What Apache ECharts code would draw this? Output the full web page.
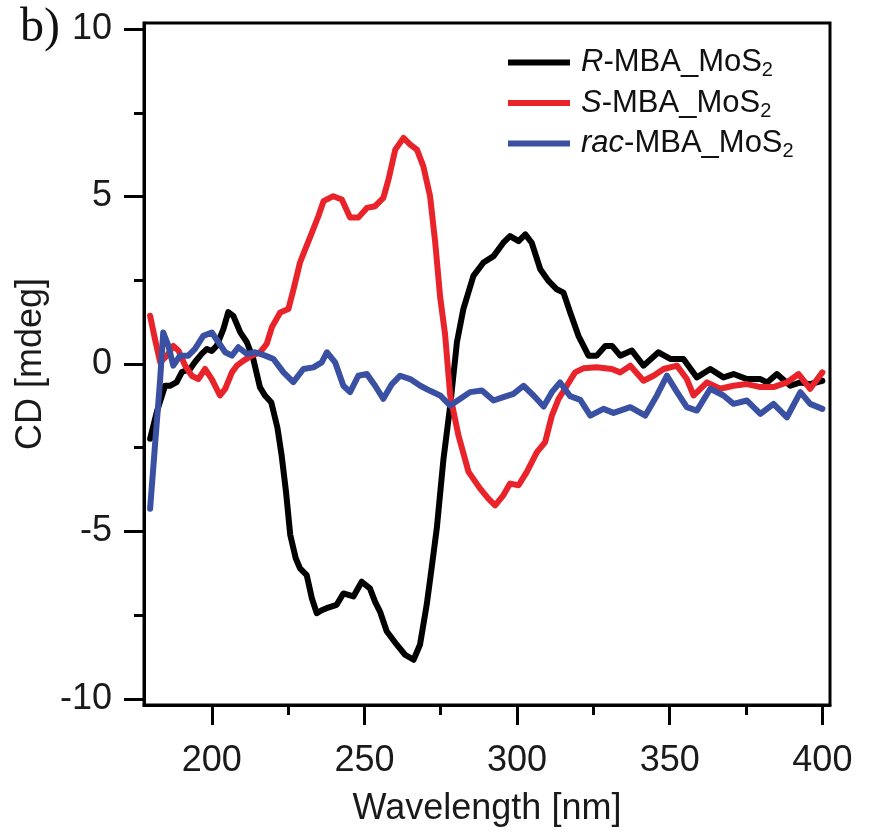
<!DOCTYPE html>
<html>
<head>
<meta charset="utf-8">
<script src="https://cdn.jsdelivr.net/npm/echarts@6/dist/echarts.min.js"></script>
<style>
html,body{margin:0;padding:0;background:#fff;}
#chart{width:871px;height:832px;}
</style>
</head>
<body>
<div id="chart"></div>
<script>
// ---- Data ----
const seriesNames = ['R-MBA_MoS2', 'S-MBA_MoS2', 'rac-MBA_MoS2'];

const rWavelength = [179.8,182.0,184.7,186.3,188.5,190.2,192.9,194.5,196.7,198.4,200.0,201.6,203.8,205.4,207.1,209.3,211.5,213.6,215.8,217.5,219.5,221.5,222.9,224.3,225.7,227.5,228.9,231.1,232.8,234.4,236.0,237.6,240.9,243.1,246.4,249.1,251.8,253.5,255.1,257.3,260.6,263.3,266.1,268.2,270.4,272.0,273.7,275.9,278.1,280.3,282.4,285.7,289.0,292.3,295.5,297.7,300.5,302.7,304.8,307.6,310.3,313.0,315.2,317.4,320.1,323.4,326.1,328.9,331.1,333.8,337.6,341.4,346.3,350.2,354.5,358.9,363.3,367.6,370.9,375.3,379.7,381.9,385.1,389.5,392.8,396.0,400.0];
const rCD = [-2.23,-1.43,-0.65,-0.65,-0.54,-0.24,-0.15,0.06,0.30,0.45,0.39,0.54,1.04,1.55,1.43,0.95,0.65,0.15,-0.70,-0.95,-1.15,-1.90,-2.74,-3.80,-5.10,-5.80,-6.10,-6.30,-7.00,-7.44,-7.35,-7.29,-7.19,-6.85,-6.94,-6.50,-6.70,-7.10,-7.39,-7.98,-8.38,-8.68,-8.83,-8.38,-7.19,-6.10,-4.91,-2.83,-1.24,0.65,1.64,2.63,3.03,3.22,3.62,3.82,3.67,3.87,3.62,2.83,2.48,2.23,2.13,1.54,0.84,0.25,0.25,0.54,0.54,0.25,0.40,-0.05,0.35,0.15,0.15,-0.40,-0.15,-0.40,-0.30,-0.45,-0.45,-0.55,-0.30,-0.65,-0.55,-0.60,-0.50];

const sWavelength = [179.8,181.4,183.1,185.3,187.4,189.1,191.3,193.4,195.6,197.8,200.0,202.7,204.4,206.6,208.2,210.4,213.1,215.8,218.0,219.7,222.4,225.1,226.7,228.9,230.6,232.8,234.9,236.6,239.8,242.6,245.3,248.0,250.8,253.5,256.2,257.9,260.1,262.8,265.0,267.2,269.3,271.5,273.2,274.8,276.4,278.1,280.8,284.1,287.9,290.6,292.8,295.5,297.7,300.5,303.2,306.5,309.2,311.4,313.6,316.3,319.0,321.7,326.1,331.0,333.8,337.1,341.4,344.7,348.0,352.4,355.6,357.8,362.2,366.5,370.9,375.3,379.7,384.0,388.4,392.2,396.0,400.0];
const sCD = [1.44,0.74,0.05,0.25,0.54,0.40,-0.05,-0.35,-0.45,-0.15,-0.45,-0.94,-0.74,-0.25,-0.05,0.10,0.25,0.35,0.60,1.10,1.54,1.64,2.20,3.03,3.42,3.92,4.41,4.86,5.01,4.91,4.37,4.37,4.66,4.71,4.96,5.51,6.40,6.75,6.55,6.40,5.90,5.01,3.62,2.00,0.90,-0.94,-2.13,-3.22,-3.72,-4.02,-4.22,-3.92,-3.57,-3.62,-3.22,-2.63,-2.33,-1.54,-1.04,-0.65,-0.25,-0.13,-0.10,-0.15,-0.25,-0.05,-0.50,-0.35,-0.15,-0.05,-0.45,-0.94,-0.55,-0.74,-0.65,-0.60,-0.69,-0.69,-0.55,-0.30,-0.74,-0.25];

const racWavelength = [179.8,181.4,183.1,184.1,185.8,187.4,189.6,192.3,194.5,197.2,200.0,202.2,204.4,206.6,208.7,211.5,214.2,217.5,220.2,223.5,226.7,230.0,233.3,236.0,237.7,240.4,243.1,245.3,248.0,250.8,253.5,256.2,259.0,261.7,265.0,268.3,271.5,274.8,278.1,281.4,284.6,288.5,292.3,295.5,298.8,302.1,305.4,308.7,311.4,314.1,317.4,320.7,324.0,328.3,331.6,337.1,342.0,345.8,349.1,352.4,355.6,358.9,363.3,367.6,370.9,375.3,379.7,384.0,388.4,392.8,396.0,400.0];
const racCD = [-4.32,-2.43,-0.45,0.94,0.54,-0.05,0.25,0.25,0.45,0.84,0.94,0.65,0.35,0.25,0.50,0.30,0.35,0.25,0.15,-0.25,-0.54,-0.15,-0.10,0.05,0.35,0.05,-0.65,-0.84,-0.35,-0.30,-0.65,-1.04,-0.60,-0.35,-0.45,-0.65,-0.80,-0.94,-1.24,-1.04,-0.84,-0.79,-1.09,-0.99,-0.89,-0.65,-0.94,-1.27,-0.84,-0.55,-0.96,-1.07,-1.54,-1.34,-1.46,-1.29,-1.54,-0.94,-0.35,-0.84,-1.29,-1.39,-0.74,-0.94,-1.19,-1.09,-1.49,-1.19,-1.59,-0.84,-1.19,-1.34];

const xMajorTicks = [200, 250, 300, 350, 400];
const xMinorTicks = [225, 275, 325, 375];
const yMajorTicks = [-10, -5, 0, 5, 10];
const yMinorTicks = [-7.5, -2.5, 2.5, 7.5];
const xAxisTitle = 'Wavelength [nm]';
const yAxisTitle = 'CD [mdeg]';
const panelLabel = 'b)';

// ---- Chart ----
const FONT = 'Liberation Sans, Arial, Helvetica, sans-serif';
const colors = ['#000000', '#e8232a', '#3a50a3'];
const zip = (xs, ys) => xs.map((x, i) => [x, ys[i]]);
const seriesData = [zip(rWavelength, rCD), zip(sWavelength, sCD), zip(racWavelength, racCD)];

const X_MIN = 177.8, X_MAX = 402.5, Y_MIN = -10.18, Y_MAX = 10.18;
const lineStyleAxis = { color: '#000', width: 3 };

const legendRich = {
  i: { fontFamily: FONT, fontSize: 31, fontStyle: 'italic', color: '#111', lineHeight: 36, padding: [0, 0, 0, 6] },
  n: { fontFamily: FONT, fontSize: 31, color: '#111', lineHeight: 36 },
  s: { fontFamily: FONT, fontSize: 20, color: '#111', lineHeight: 10, verticalAlign: 'bottom' }
};
function legendFormatter(name) {
  const m = name.match(/^(R|S|rac)(-MBA_MoS)2$/);
  return '{i|' + m[1] + '}{n|' + m[2] + '}{s|2}';
}

const chart = echarts.init(document.getElementById('chart'), null, { renderer: 'canvas' });
chart.setOption({
  animation: false,
  backgroundColor: '#fff',
  color: colors,
  grid: { left: 144, right: 41, top: 23, bottom: 125, show: true, borderColor: '#000', borderWidth: 3, backgroundColor: 'transparent' },
  legend: {
    orient: 'vertical', left: 503, top: 42, itemGap: 7,
    icon: 'rect', itemWidth: 62, itemHeight: 6,
    data: seriesNames,
    formatter: legendFormatter,
    textStyle: { fontFamily: FONT, fontSize: 31, color: '#111', rich: legendRich }
  },
  xAxis: [{
    type: 'value', min: X_MIN, max: X_MAX, position: 'bottom',
    axisLine: { show: true, onZero: false, lineStyle: lineStyleAxis },
    axisTick: { show: true, inside: false, length: 20, lineStyle: { color: '#000', width: 3 }, customValues: xMajorTicks },
    axisLabel: { show: true, margin: 38, fontFamily: FONT, fontSize: 36, color: '#1a1a1a', customValues: xMajorTicks },
    splitLine: { show: false },
    name: xAxisTitle, nameLocation: 'middle', nameGap: 86,
    nameTextStyle: { fontFamily: FONT, fontSize: 36, color: '#1a1a1a' }
  }, {
    type: 'value', min: X_MIN, max: X_MAX, position: 'bottom',
    axisLine: { show: false, onZero: false },
    axisTick: { show: true, inside: false, length: 10, lineStyle: { color: '#000', width: 3 }, customValues: xMinorTicks },
    axisLabel: { show: false },
    splitLine: { show: false }
  }],
  yAxis: [{
    type: 'value', min: Y_MIN, max: Y_MAX, position: 'left',
    axisLine: { show: true, onZero: false, lineStyle: lineStyleAxis },
    axisTick: { show: true, inside: false, length: 20, lineStyle: { color: '#000', width: 3 }, customValues: yMajorTicks },
    axisLabel: { show: true, margin: 32, fontFamily: FONT, fontSize: 36, color: '#1a1a1a', customValues: yMajorTicks },
    splitLine: { show: false },
    name: yAxisTitle, nameLocation: 'middle', nameGap: 80, nameRotate: 90,
    nameTextStyle: { fontFamily: FONT, fontSize: 36, color: '#1a1a1a' }
  }, {
    type: 'value', min: Y_MIN, max: Y_MAX, position: 'left',
    axisLine: { show: false, onZero: false },
    axisTick: { show: true, inside: false, length: 10, lineStyle: { color: '#000', width: 3 }, customValues: yMinorTicks },
    axisLabel: { show: false },
    splitLine: { show: false }
  }],
  graphic: [{
    type: 'text', left: 20, top: 4,
    style: { text: panelLabel, font: '48px "Liberation Serif", "Times New Roman", serif', fill: '#111' }
  }],
  series: seriesNames.map((name, i) => ({
    name: name, type: 'line', data: seriesData[i],
    xAxisIndex: 0, yAxisIndex: 0,
    showSymbol: false, symbol: 'none', smooth: false,
    lineStyle: { color: colors[i], width: 6, join: 'round', cap: 'round' },
    itemStyle: { color: colors[i] },
    z: 2 + i
  }))
});
</script>
</body>
</html>
